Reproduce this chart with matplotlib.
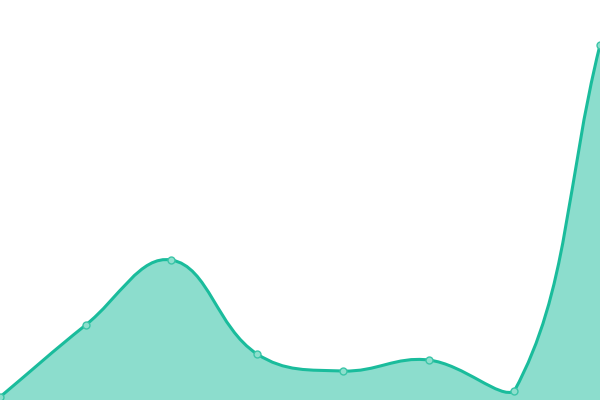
import numpy as np
import matplotlib
matplotlib.use("Agg")
import matplotlib.pyplot as plt
from matplotlib.path import Path
from matplotlib.patches import PathPatch

# data
categories = list(range(8))
values = [3, 75, 140, 46, 29, 40, 9, 355]

W, H = 600, 400
XMAX = len(categories) - 1
YMAX = 400.0
tension = 0.4

fig = plt.figure(figsize=(6, 4), dpi=100)
ax = fig.add_axes([0, 0, 1, 1])
ax.set_xlim(0, XMAX)
ax.set_ylim(0, YMAX)
ax.axis("off")

# Chart.js-like spline control points computed in pixel space
sx = W / XMAX
sy = H / YMAX
px = np.array(categories, float) * sx
py = np.array(values, float) * sy
n = len(px)
cp_prev = []
cp_next = []
for i in range(n):
    x1, y1 = px[i], py[i]
    x0, y0 = (px[i-1], py[i-1]) if i > 0 else (x1, y1)
    x2, y2 = (px[i+1], py[i+1]) if i < n-1 else (x1, y1)
    d01 = np.hypot(x1-x0, y1-y0)
    d12 = np.hypot(x2-x1, y2-y1)
    tot = d01 + d12
    s01 = d01/tot if tot else 0
    s12 = d12/tot if tot else 0
    fa, fb = tension*s01, tension*s12
    p = [x1 - fa*(x2-x0), y1 - fa*(y2-y0)]
    q = [x1 + fb*(x2-x0), y1 + fb*(y2-y0)]
    for c in (p, q):
        c[0] = min(max(c[0], 0), W)
        c[1] = min(max(c[1], 0), H)
    cp_prev.append(p)
    cp_next.append(q)

verts = [(px[0]/sx, py[0]/sy)]
codes = [Path.MOVETO]
for i in range(n-1):
    verts += [(cp_next[i][0]/sx, cp_next[i][1]/sy),
              (cp_prev[i+1][0]/sx, cp_prev[i+1][1]/sy),
              (px[i+1]/sx, py[i+1]/sy)]
    codes += [Path.CURVE4]*3

line_path = Path(verts, codes)
fill_verts = verts + [(categories[-1], 0), (categories[0], 0), verts[0]]
fill_codes = codes + [Path.LINETO, Path.LINETO, Path.CLOSEPOLY]
fill_path = Path(fill_verts, fill_codes)

ax.add_patch(PathPatch(fill_path, facecolor="#1abc9c", alpha=0.5, edgecolor="none"))
ax.add_patch(PathPatch(line_path, facecolor="none", edgecolor="#1abc9c", linewidth=2.2))
ax.plot(categories, values, linestyle="none", marker="o", markersize=5,
        markerfacecolor="#8ddfcd", markeredgecolor="#3cc5a8", markeredgewidth=1.0)

fig.savefig("out.png", dpi=100)
